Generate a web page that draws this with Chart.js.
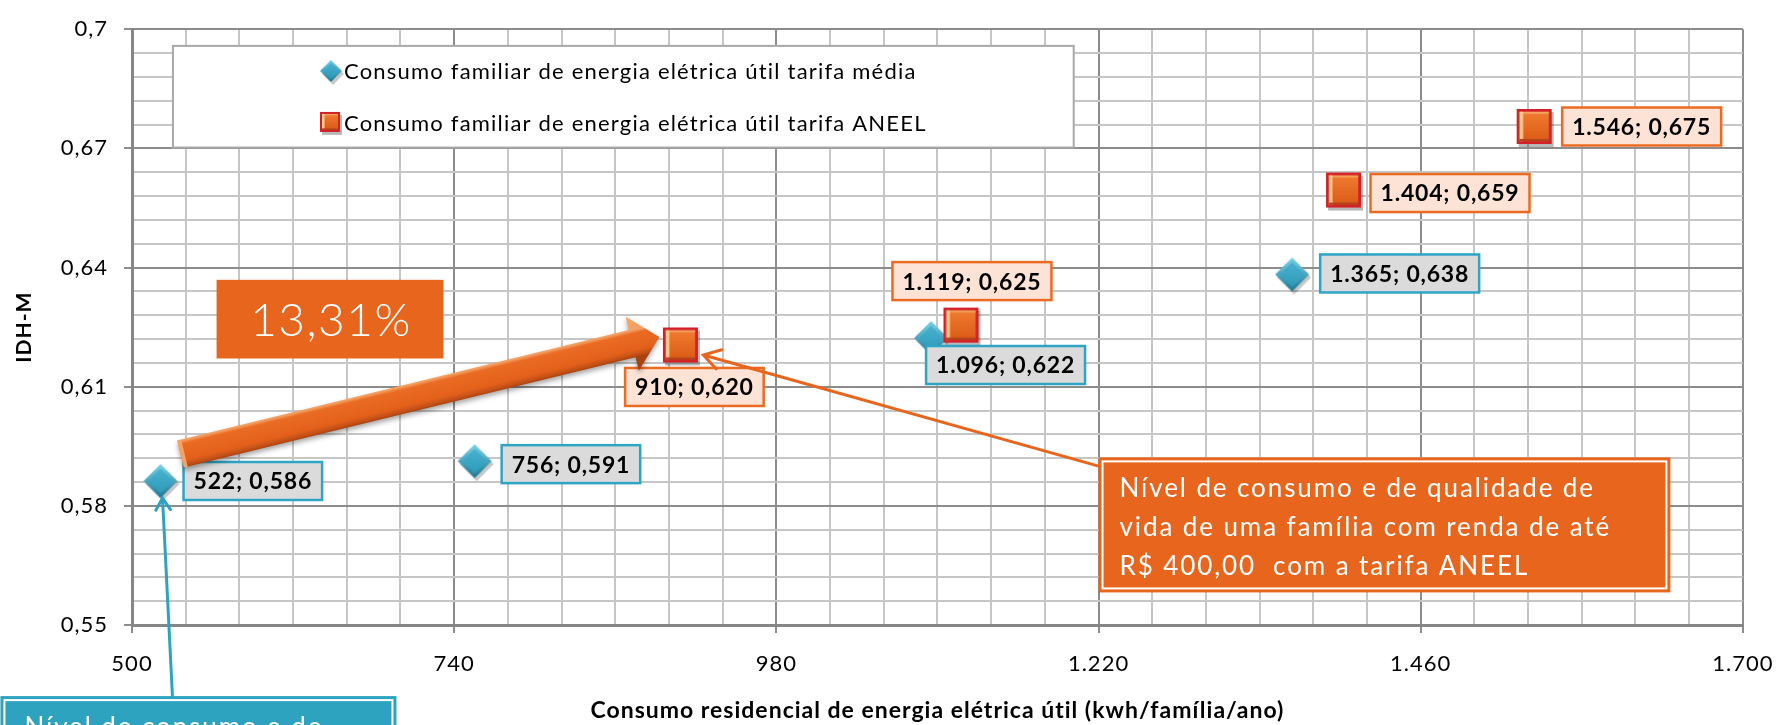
<!DOCTYPE html>
<html>
<head>
<meta charset="utf-8">
<script src="https://cdn.jsdelivr.net/npm/chart.js@4.4.1/dist/chart.umd.min.js"></script>
<style>
  html, body { margin: 0; padding: 0; background: #fff; overflow: hidden; }
</style>
</head>
<body>
<canvas id="grafico-idh" width="1789" height="725"></canvas>
<script>
// Consumo residencial x IDH-M
const consumoMedia = [522, 756, 1096, 1365];
const idhMedia = [0.586, 0.591, 0.622, 0.638];
const consumoAneel = [910, 1119, 1404, 1546];
const idhAneel = [0.620, 0.625, 0.659, 0.675];
const nomesSeries = [
  'Consumo familiar de energia elétrica útil tarifa média',
  'Consumo familiar de energia elétrica útil tarifa ANEEL'
];
const ticksX = [500, 740, 980, 1220, 1460, 1700];
const ticksY = [0.55, 0.58, 0.61, 0.64, 0.67, 0.7];
const textoVariacao = '13,31%';
const textoAneel = ['Nível de consumo e de qualidade de', 'vida de uma família com renda de até', 'R$ 400,00  com a tarifa ANEEL'];
const textoMedia = ['Nível de consumo e de'];

const LARANJA = '#E8651E';
const AZUL = '#2DA3BF';
const FONTE = 'Lato, "DejaVu Sans", sans-serif';

// formatos pt-BR
const fmtMilhar = v => String(v).replace(/\B(?=(\d{3})+(?!\d))/g, '.');
const fmtIdh = v => v.toFixed(3).replace('.', ',');
const fmtTickY = v => String(parseFloat(v.toFixed(2))).replace('.', ',');

// divide cada intervalo principal em partes iguais (linhas secundárias)
function montarTicks(principais, partes) {
  const t = [];
  for (let i = 0; i < principais.length - 1; i++) {
    const passo = (principais[i + 1] - principais[i]) / partes;
    for (let k = 0; k < partes; k++) t.push({ value: principais[i] + k * passo, principal: k === 0 });
  }
  t.push({ value: principais[principais.length - 1], principal: true });
  return t;
}

// marcadores com relevo
function marcadorLosango(r) {
  const s = Math.ceil(r * 2 + 8), m = s / 2 - 1;
  const c = document.createElement('canvas');
  c.width = s; c.height = s;
  const g = c.getContext('2d');
  const losango = (cx, cy, rr) => {
    g.beginPath();
    g.moveTo(cx, cy - rr); g.lineTo(cx + rr, cy); g.lineTo(cx, cy + rr); g.lineTo(cx - rr, cy);
    g.closePath();
  };
  losango(m + 2, m + 3, r); g.fillStyle = 'rgba(0,0,0,0.22)'; g.fill();
  let gr = g.createLinearGradient(0, m - r, 0, m + r);
  gr.addColorStop(0, '#7AD3E8'); gr.addColorStop(1, '#1C7894');
  losango(m, m, r); g.fillStyle = gr; g.fill();
  gr = g.createLinearGradient(0, m - r, 0, m + r);
  gr.addColorStop(0, '#4DB8D5'); gr.addColorStop(1, '#2A94B4');
  losango(m, m, r * 0.72); g.fillStyle = gr; g.fill();
  return c;
}

function marcadorQuadrado(a) {
  const s = Math.ceil(a + 6);
  const c = document.createElement('canvas');
  c.width = s; c.height = s;
  const g = c.getContext('2d');
  const x = 1, y = 1, b = Math.max(2, a * 0.08);
  g.fillStyle = 'rgba(0,0,0,0.28)'; g.fillRect(x + 2, y + 3, a, a);
  g.fillStyle = '#D21F28'; g.fillRect(x, y, a, a);
  const gr = g.createLinearGradient(0, y + b, 0, y + a - b);
  gr.addColorStop(0, '#F07B30'); gr.addColorStop(1, '#DB5B17');
  g.fillStyle = gr; g.fillRect(x + b, y + b, a - 2 * b, a - 2 * b);
  g.fillStyle = '#F6A35E'; g.fillRect(x + b, y + b, a - 2 * b, b * 0.7);
  g.fillStyle = '#FBC98A'; g.fillRect(x + b, y + b, b * 1.3, a - 2 * b);
  g.fillStyle = '#B4441A'; g.fillRect(x + b, y + a - b * 1.8, a - 2 * b, b * 0.8);
  return c;
}

const pontoMedia = marcadorLosango(17);
const pontoAneel = marcadorQuadrado(35);
const legMedia = marcadorLosango(11);
const legAneel = marcadorQuadrado(20);

// posição das etiquetas de valor em relação ao ponto (l = à direita, c = centralizada)
const posRotuloMedia = [{ a: 'l', dx: 22, dy: -1 }, { a: 'l', dx: 26, dy: 2 }, { a: 'l', dx: -6, dy: 26 }, { a: 'l', dx: 27, dy: -2 }];
const posRotuloAneel = [{ a: 'c', dx: 12, dy: 40 }, { a: 'c', dx: 9, dy: -46 }, { a: 'l', dx: 25, dy: 1 }, { a: 'l', dx: 26, dy: -2 }];

// caixas de anotação, em unidades dos eixos
const caixaLegenda = { x0: 530.5, x1: 1201.5, y0: 0.6958, y1: 0.6702 };
const caixaVariacao = { x0: 563, x1: 732, y0: 0.6369, y1: 0.6171 };
const caixaAneel = { x0: 1220, x1: 1646, y0: 0.5922, y1: 0.5582 };
const caixaMedia = { x0: 402, x1: 697, y0: 0.5321, y1: 0.515 };

function rotulo(ctx, texto, px, py, pos, fundo, borda) {
  ctx.font = 'bold 23px ' + FONTE;
  ctx.letterSpacing = '0.8px';
  const w = ctx.measureText(texto).width + 20, h = 38;
  const x = pos.a === 'l' ? px + pos.dx : px + pos.dx - w / 2;
  const y = py + pos.dy - h / 2;
  ctx.fillStyle = fundo;
  ctx.fillRect(x, y, w, h);
  ctx.lineWidth = 2.5;
  ctx.strokeStyle = borda;
  ctx.strokeRect(x, y, w, h);
  ctx.fillStyle = '#000';
  ctx.textAlign = 'left';
  ctx.textBaseline = 'middle';
  ctx.fillText(texto, x + 10, y + h / 2 + 1);
}

function setaLarga(ctx, x0, y0, x1, y1) {
  const ang = Math.atan2(y1 - y0, x1 - x0);
  const len = Math.hypot(x1 - x0, y1 - y0);
  const hw = 14, cab = 28, cl = 28;
  ctx.save();
  ctx.translate(x0, y0);
  ctx.rotate(ang);
  ctx.beginPath();
  ctx.moveTo(0, -hw); ctx.lineTo(len - cl, -hw); ctx.lineTo(len - cl, -cab);
  ctx.lineTo(len, 0); ctx.lineTo(len - cl, cab); ctx.lineTo(len - cl, hw); ctx.lineTo(0, hw);
  ctx.closePath();
  const gr = ctx.createLinearGradient(0, -cab, 0, cab);
  gr.addColorStop(0, '#F7A867');
  gr.addColorStop(0.27, '#F4A062');
  gr.addColorStop(0.33, '#EA6B24');
  gr.addColorStop(0.62, '#E3601B');
  gr.addColorStop(0.71, '#C24F16');
  gr.addColorStop(0.75, '#A8430F');
  gr.addColorStop(1, '#A8430F');
  ctx.shadowColor = 'rgba(0,0,0,0.35)';
  ctx.shadowBlur = 5;
  ctx.shadowOffsetY = 3;
  ctx.fillStyle = gr;
  ctx.fill();
  ctx.shadowColor = 'transparent';
  ctx.fillStyle = '#F6A466';
  ctx.fillRect(0, -hw, 4, hw * 2);
  ctx.restore();
}

function linhaSeta(ctx, x0, y0, x1, y1, cor, asa) {
  const ang = Math.atan2(y0 - y1, x0 - x1);
  ctx.save();
  ctx.strokeStyle = cor;
  ctx.lineWidth = 3;
  ctx.lineCap = 'round';
  ctx.beginPath();
  ctx.moveTo(x0, y0); ctx.lineTo(x1, y1);
  ctx.moveTo(x1 + asa * Math.cos(ang - 0.55), y1 + asa * Math.sin(ang - 0.55));
  ctx.lineTo(x1, y1);
  ctx.lineTo(x1 + asa * Math.cos(ang + 0.55), y1 + asa * Math.sin(ang + 0.55));
  ctx.stroke();
  ctx.restore();
}

function caixaTexto(ctx, r, cor, linhas, x0, base, passo) {
  ctx.fillStyle = cor;
  ctx.fillRect(r.l, r.t, r.r - r.l, r.b - r.t);
  ctx.strokeStyle = '#fff';
  ctx.lineWidth = 2;
  ctx.strokeRect(r.l + 4, r.t + 4, r.r - r.l - 8, r.b - r.t - 8);
  ctx.fillStyle = '#fff';
  ctx.font = '26px ' + FONTE;
  ctx.letterSpacing = '1.9px';
  ctx.textAlign = 'left';
  ctx.textBaseline = 'alphabetic';
  linhas.forEach((l, i) => ctx.fillText(l, r.l + x0, r.t + base + i * passo));
}

// espaçamento entre letras dos textos dos eixos
const espacamento = {
  id: 'espacamento',
  beforeDraw(chart) { chart.ctx.letterSpacing = '1px'; }
};

const anotacoes = {
  id: 'anotacoes',
  afterDatasetsDraw(chart) {
    const { ctx, scales: { x, y } } = chart;
    const P = (vx, vy) => [x.getPixelForValue(vx), y.getPixelForValue(vy)];
    const ret = c => ({ l: x.getPixelForValue(c.x0), r: x.getPixelForValue(c.x1), t: y.getPixelForValue(c.y0), b: y.getPixelForValue(c.y1) });
    ctx.save();

    // legenda dentro da área do gráfico
    const lg = ret(caixaLegenda);
    ctx.fillStyle = '#fff';
    ctx.fillRect(lg.l, lg.t, lg.r - lg.l, lg.b - lg.t);
    ctx.strokeStyle = '#A8A8A8';
    ctx.lineWidth = 2;
    ctx.strokeRect(lg.l, lg.t, lg.r - lg.l, lg.b - lg.t);
    ctx.font = '22px ' + FONTE;
    ctx.letterSpacing = '1.2px';
    const larg = Math.max(...nomesSeries.map(n => ctx.measureText(n).width)) + 24;
    const lx = (lg.l + lg.r) / 2 - larg / 2;
    [legMedia, legAneel].forEach((m, i) => {
      const cy = lg.t + 25 + i * 52;
      ctx.drawImage(m, lx + 11 - m.width / 2 + 1, cy - m.height / 2 + 1);
      ctx.fillStyle = '#000';
      ctx.textAlign = 'left';
      ctx.textBaseline = 'middle';
      ctx.fillText(nomesSeries[i], lx + 24, cy + 1);
    });

    // caixa da variação
    const cv = ret(caixaVariacao);
    ctx.fillStyle = LARANJA;
    ctx.fillRect(cv.l, cv.t, cv.r - cv.l, cv.b - cv.t);
    ctx.fillStyle = '#fff';
    ctx.font = '300 46px ' + FONTE;
    ctx.letterSpacing = '1.5px';
    ctx.textAlign = 'center';
    ctx.textBaseline = 'middle';
    ctx.fillText(textoVariacao, (cv.l + cv.r) / 2 + 1, (cv.t + cv.b) / 2 + 2);

    // etiquetas de valor
    consumoMedia.forEach((v, i) => {
      const [px, py] = P(v, idhMedia[i]);
      rotulo(ctx, fmtMilhar(v) + '; ' + fmtIdh(idhMedia[i]), px, py, posRotuloMedia[i], '#DBDBDB', '#2EA5C4');
    });
    consumoAneel.forEach((v, i) => {
      const [px, py] = P(v, idhAneel[i]);
      rotulo(ctx, fmtMilhar(v) + '; ' + fmtIdh(idhAneel[i]), px, py, posRotuloAneel[i], '#FCE3D5', '#EC6B22');
    });

    // seta do primeiro ponto da tarifa média ao primeiro da tarifa ANEEL
    const [ax, ay] = P(consumoMedia[0], idhMedia[0]);
    const [bx, by] = P(consumoAneel[0], idhAneel[0]);
    setaLarga(ctx, ax + 19, ay - 28, bx - 23, by - 10);

    // chamada da tarifa ANEEL
    const ca = ret(caixaAneel);
    linhaSeta(ctx, ca.l + 1, ca.t + 9, bx + 21, by + 8, LARANJA, 19);
    caixaTexto(ctx, ca, LARANJA, textoAneel, 21, 40, 39);

    // chamada da tarifa média (corta na borda inferior)
    const cm = ret(caixaMedia);
    linhaSeta(ctx, cm.l + 172, cm.t, ax + 1, ay + 16, AZUL, 14);
    caixaTexto(ctx, cm, AZUL, textoMedia, 24, 40, 39);

    ctx.restore();
  }
};

const corGrade = ctx => ctx.tick && ctx.tick.principal ? '#8C8C8C' : '#C6C6C6';
const corTraco = ctx => ctx.tick && ctx.tick.principal ? '#8C8C8C' : 'rgba(0,0,0,0)';

const ctx = document.getElementById('grafico-idh').getContext('2d');

new Chart(ctx, {
  type: 'scatter',
  data: {
    datasets: [{
      label: nomesSeries[0],
      data: consumoMedia.map((v, i) => ({ x: v, y: idhMedia[i] })),
      pointStyle: pontoMedia,
      pointRadius: 17,
      order: 1
    }, {
      label: nomesSeries[1],
      data: consumoAneel.map((v, i) => ({ x: v, y: idhAneel[i] })),
      pointStyle: pontoAneel,
      pointRadius: 17,
      order: 0
    }]
  },
  options: {
    responsive: false,
    animation: false,
    events: [],
    layout: { padding: { top: 20, right: 43, left: 0, bottom: 0 } },
    plugins: {
      legend: { display: false },
      tooltip: { enabled: false }
    },
    scales: {
      x: {
        type: 'linear',
        min: ticksX[0],
        max: ticksX[ticksX.length - 1],
        afterBuildTicks: s => { s.ticks = montarTicks(ticksX, 6); },
        afterFit: s => { s.height = 100; },
        ticks: {
          autoSkip: false,
          maxRotation: 0,
          padding: 18,
          color: '#000',
          font: { family: FONTE, size: 22 },
          callback: (v, i, t) => t[i].principal ? fmtMilhar(Math.round(v)) : ''
        },
        grid: { color: corGrade, tickColor: corTraco, lineWidth: 2, tickLength: 8 },
        border: { color: '#868686', width: 3 },
        title: {
          display: true,
          text: 'Consumo residencial de energia elétrica útil (kwh/família/ano)',
          color: '#000',
          font: { family: FONTE, size: 23, weight: 'bold' },
          padding: { top: 0, bottom: 1 }
        }
      },
      y: {
        type: 'linear',
        min: ticksY[0],
        max: ticksY[ticksY.length - 1],
        afterBuildTicks: s => { s.ticks = montarTicks(ticksY, 5); },
        afterFit: s => { s.width = 132; },
        ticks: {
          autoSkip: false,
          padding: 16,
          color: '#000',
          font: { family: FONTE, size: 22 },
          callback: (v, i, t) => t[i].principal ? fmtTickY(v) : ''
        },
        grid: { color: corGrade, tickColor: corTraco, lineWidth: 2, tickLength: 8 },
        border: { color: '#868686', width: 3 },
        title: {
          display: true,
          text: 'IDH-M',
          color: '#000',
          font: { family: FONTE, size: 21, weight: 'bold' },
          padding: { top: 12, bottom: 0 }
        }
      }
    }
  },
  plugins: [espacamento, anotacoes]
});
</script>
</body>
</html>
